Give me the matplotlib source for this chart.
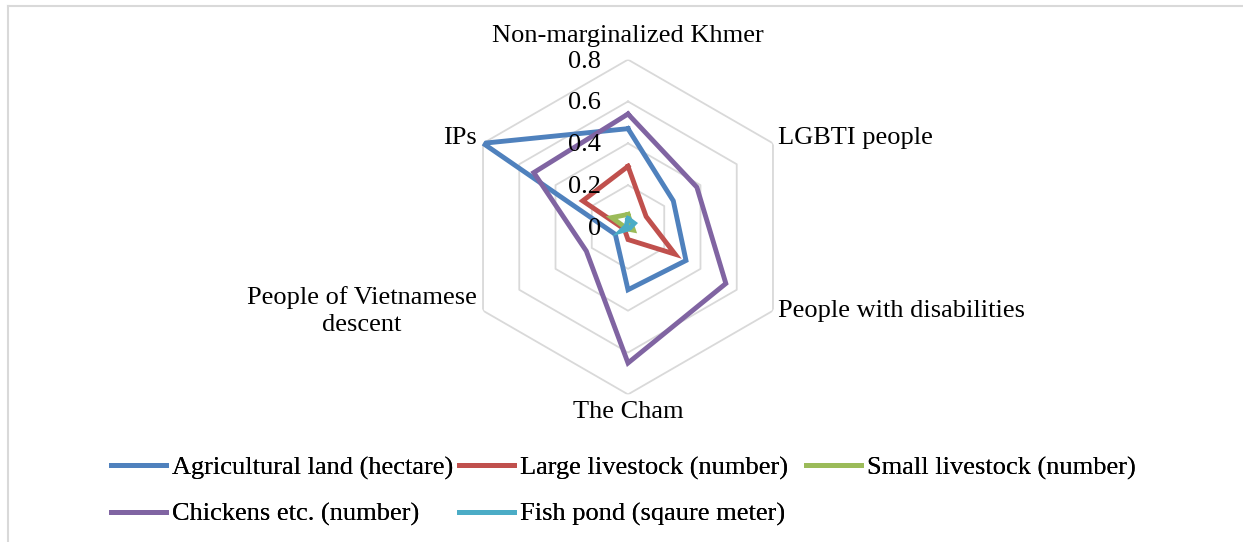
import matplotlib.pyplot as plt
import numpy as np

# groups around the radar, clockwise from top
groups = ['Non-marginalized Khmer', 'LGBTI people', 'People with disabilities',
          'The Cham', 'People of Vietnamese\ndescent', 'IPs']

agri_land = [0.47, 0.25, 0.32, 0.30, 0.07, 0.80]
large_livestock = [0.29, 0.10, 0.26, 0.06, 0.02, 0.25]
small_livestock = [0.06, 0.02, 0.03, 0.01, 0.01, 0.09]
chickens = [0.54, 0.38, 0.54, 0.65, 0.23, 0.52]
fish_pond = [0.04, 0.035, 0.01, 0.01, 0.04, 0.01]

series_names = ['Agricultural land (hectare)', 'Large livestock (number)',
                'Small livestock (number)', 'Chickens etc. (number)',
                'Fish pond (sqaure meter)']
series_colors = ['#4F81BD', '#C0504D', '#9BBB59', '#8064A2', '#4BACC6']
ticks = [0, 0.2, 0.4, 0.6, 0.8]

plt.rcParams['font.family'] = ['Liberation Serif', 'DejaVu Serif']
FS = 19

fig = plt.figure(figsize=(12.43, 5.42), dpi=100)
W, H = 1243, 542
cx, cy, rad = 628, 227, 167.4
ax = fig.add_axes([(cx - rad) / W, (H - cy - rad) / H, 2 * rad / W, 2 * rad / H],
                  projection='polar')
ax.set_theta_offset(np.pi / 2)
ax.set_theta_direction(-1)
ax.set_ylim(0, 0.8)
ax.grid(False)
ax.spines['polar'].set_visible(False)
ax.set_xticks([])
ax.set_yticks([])
ax.patch.set_alpha(0)

theta = np.linspace(0, 2 * np.pi, len(groups), endpoint=False)
th_closed = np.append(theta, theta[0])

# hexagonal gridlines
for t in ticks[1:]:
    ax.plot(th_closed, [t] * len(th_closed), color='#d9d9d9', lw=1.3, zorder=1)

all_series = [agri_land, large_livestock, small_livestock, chickens, fish_pond]
handles = []
for vals, name, col in zip(all_series, series_names, series_colors):
    h, = ax.plot(th_closed, vals + vals[:1], color=col, lw=3.5, label=name,
                 solid_joinstyle='miter', zorder=3)
    handles.append(h)

# radial tick labels to the left of the top spoke
for t in ticks:
    fig.text((cx - 27) / W, 1 - (cy + 2 - t / 0.8 * rad) / H, '%g' % t,
             ha='right', va='center', fontsize=FS, zorder=5)

# category labels
label_pos = [(628, 36, 'center'), (778, 138, 'left'), (778, 311, 'left'),
             (628, 412, 'center'), (477, 311, 'right'), (477, 138, 'right')]
for g, (x, y, ha) in zip(groups, label_pos):
    fig.text(x / W, 1 - y / H, g, ha=ha, va='center', fontsize=FS,
             multialignment='center', linespacing=1.35)

# legend: equal-width columns, filled row by row
columns = [[0, 3], [1, 4], [2]]
col_x = [111, 459, 806]
for idx, x in zip(columns, col_x):
    leg = fig.legend([handles[i] for i in idx], [series_names[i] for i in idx],
                     loc='upper left', bbox_to_anchor=(x / W, 1 - 456 / H),
                     frameon=False, fontsize=FS, handlelength=2.1,
                     handletextpad=0.2, labelspacing=0.85, borderpad=0,
                     borderaxespad=0)
    fig.add_artist(leg)

# chart area border (only top and left edges visible)
fig.add_artist(plt.Line2D([7.5 / W, 1], [1 - 5.5 / H, 1 - 5.5 / H],
                          color='#d9d9d9', lw=1.5))
fig.add_artist(plt.Line2D([7.5 / W, 7.5 / W], [0, 1 - 5.5 / H],
                          color='#d9d9d9', lw=1.5))

fig.savefig('out.png', dpi=100)
